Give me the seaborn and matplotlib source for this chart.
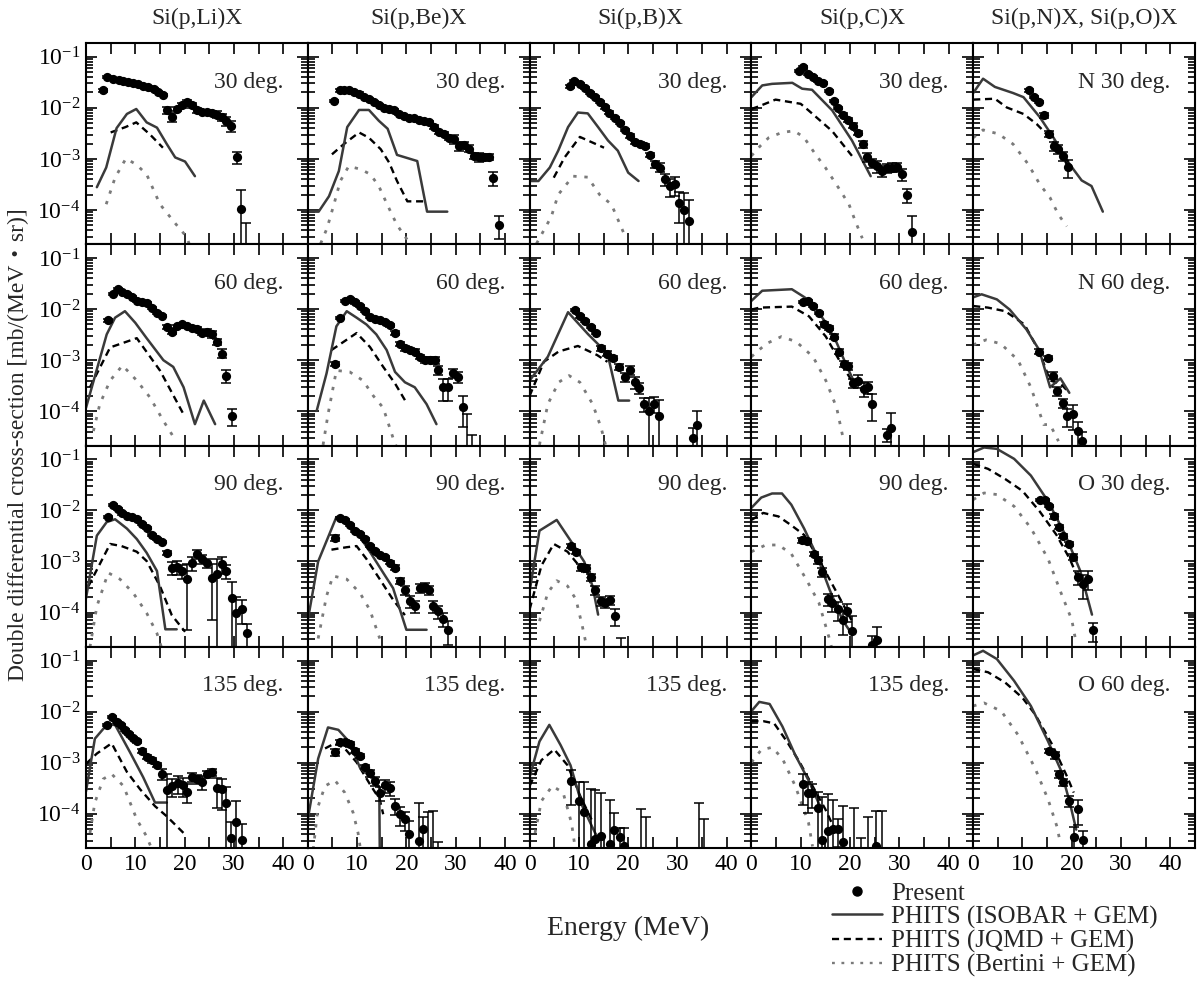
import numpy as np
import pandas as pd
import matplotlib
matplotlib.use("Agg")
import matplotlib.pyplot as plt
from matplotlib.lines import Line2D
from matplotlib.ticker import MultipleLocator, LogLocator, NullFormatter
import seaborn as sns

# ====== DATA (E [MeV], cross-section, relative error) ======
COL_TITLES = ["Si(p,Li)X", "Si(p,Be)X", "Si(p,B)X", "Si(p,C)X", "Si(p,N)X, Si(p,O)X"]
ANGLES = ["30 deg.", "60 deg.", "90 deg.", "135 deg."]
LAST_COL_LABELS = ["N 30 deg.", "N 60 deg.", "O 30 deg.", "O 60 deg."]
LEGEND_LABELS = ["Present", "PHITS (ISOBAR + GEM)", "PHITS (JQMD + GEM)", "PHITS (Bertini + GEM)"]

# ---- 30 deg ----
li30_exp = [(3.5, 0.0219, .05), (4.3, 0.0407, .05), (5.5, 0.0372, .05), (6.6, 0.0355, .05), (7.6, 0.0339, .05),
            (8.6, 0.0324, .05), (9.6, 0.0309, .05), (10.6, 0.0288, .05), (11.6, 0.0263, .05), (12.6, 0.0251, .05),
            (13.7, 0.0229, .05), (14.7, 0.0204, .05), (15.6, 0.0178, .05), (16.4, 0.0091, .15), (17.5, 0.0066, .2),
            (18.4, 0.0095, .1), (19.4, 0.0112, .1), (20.4, 0.0129, .1), (21.5, 0.0112, .1), (22.5, 0.0089, .1),
            (23.5, 0.0083, .1), (24.5, 0.0083, .1), (25.5, 0.0079, .1), (26.5, 0.0074, .15), (27.5, 0.0066, .15),
            (28.5, 0.0056, .2), (29.5, 0.0045, .25), (30.6, 0.00107, .25), (31.4, 1.05e-4, 1.34), (32.5, 1.5e-5, 2.7)]
li30_isobar = [(2.2, 2.8e-4), (4.1, 6.8e-4), (6.2, 4.0e-3), (8.3, 7.6e-3), (10.2, 9.5e-3), (12.3, 5.2e-3),
               (14.4, 4.1e-3), (16.4, 1.95e-3), (18.1, 1.07e-3), (20.1, 8.9e-4), (22.1, 4.6e-4)]
li30_jqmd = [(5.0, 3.3e-3), (8.0, 4.2e-3), (10.2, 5.2e-3), (13.0, 3.0e-3), (15.6, 1.66e-3)]
li30_bertini = [(4.1, 1.3e-4), (5.9, 4.3e-4), (8.1, 1.02e-3), (10.2, 7.8e-4), (12.3, 5.0e-4), (15.0, 1.3e-4),
                (18.1, 5.5e-5), (20.4, 3.0e-5), (21.0, 2.1e-5)]

be30_exp = [(5.3, 0.0138, .05), (6.5, 0.0219, .05), (7.3, 0.0226, .05), (8.3, 0.0219, .05), (9.3, 0.0204, .05),
            (10.4, 0.0191, .05), (11.4, 0.0166, .05), (12.4, 0.0151, .05), (13.4, 0.0129, .05), (14.4, 0.0112, .05),
            (15.4, 0.0100, .05), (16.5, 0.0095, .05), (17.5, 0.0089, .05), (18.5, 0.0076, .05), (19.5, 0.0068, .05),
            (20.5, 0.0063, .05), (21.5, 0.0063, .05), (22.5, 0.0058, .05), (23.6, 0.0055, .05), (24.6, 0.0052, .05),
            (25.6, 0.0042, .08), (26.6, 0.0033, .08), (27.6, 0.0031, .1), (28.6, 0.0026, .1), (29.7, 0.0025, .2),
            (30.7, 0.0018, .2), (31.7, 0.0019, .15), (32.7, 0.0016, .15), (33.7, 0.00115, .15), (34.7, 0.00107, .2),
            (35.7, 0.00107, .15), (36.8, 0.0011, .15), (37.6, 4.3e-4, .3), (38.7, 5.1e-5, .47)]
be30_isobar = [(0, 9.3e-5), (2.2, 9.3e-5), (4.3, 1.86e-4), (6.3, 5.8e-4), (8.0, 4.2e-3), (10.4, 9.1e-3),
               (12.4, 9.1e-3), (14.4, 5.6e-3), (16.2, 3.9e-3), (18.1, 1.2e-3), (22.2, 9.1e-4), (24.2, 9.3e-5),
               (28.3, 9.3e-5)]
be30_jqmd = [(4.9, 1.23e-3), (7.3, 1.95e-3), (10.4, 3.3e-3), (12.4, 2.6e-3), (14.8, 1.55e-3), (16.5, 8.5e-4),
             (18.1, 3.7e-4), (20.2, 1.48e-4), (22.2, 1.48e-4), (24.0, 1.48e-4)]
be30_bertini = [(2.6, 2.2e-5), (3.9, 4.4e-5), (5.3, 1.29e-4), (6.6, 3.7e-4), (8.3, 7.2e-4), (10.7, 6.3e-4),
                (12.7, 5.0e-4), (14.4, 2.95e-4), (16.1, 1.29e-4), (18.1, 5.1e-5), (20.2, 2.6e-5)]

b30_exp = [(8.1, 0.0263, .05), (9.1, 0.0339, .05), (10.2, 0.0295, .05), (11.2, 0.0245, .05), (12.2, 0.0195, .05),
           (13.2, 0.0162, .05), (14.2, 0.0129, .05), (15.2, 0.0102, .05), (16.2, 0.0081, .05), (17.3, 0.0063, .05),
           (18.3, 0.0050, .05), (19.3, 0.0037, .05), (20.3, 0.0028, .08), (21.3, 0.0021, .08), (22.3, 0.00195, .08),
           (23.4, 0.00182, .1), (24.4, 0.0012, .1), (25.4, 7.8e-4, .15), (26.4, 6.8e-4, .2), (27.4, 4.0e-4, .25),
           (28.4, 2.95e-4, .4), (29.4, 3.2e-4, .4), (30.3, 1.38e-4, .6), (31.3, 9.8e-5, 1.2), (32.4, 6.0e-5, 1.6)]
b30_isobar = [(0, 3.7e-4), (1.8, 3.7e-4), (4.1, 6.8e-4), (5.8, 1.45e-3), (7.8, 4.2e-3), (9.8, 8.1e-3),
              (11.8, 7.8e-3), (13.9, 4.2e-3), (15.9, 2.3e-3), (17.9, 1.45e-3), (20.0, 5.4e-4), (22.1, 3.7e-4)]
b30_jqmd = [(4.9, 4.3e-4), (7.1, 1.07e-3), (10.2, 2.7e-3), (15.1, 1.66e-3)]
b30_bertini = [(1.4, 2.2e-5), (4.4, 7.4e-5), (5.8, 2.0e-4), (8.8, 4.6e-4), (11.8, 4.4e-4), (14.2, 2.0e-4),
               (16.6, 1.29e-4), (19.3, 3.2e-5)]

c30_exp = [(9.6, 0.0525, .05), (10.5, 0.0617, .05), (11.5, 0.0468, .05), (12.5, 0.0407, .05), (13.5, 0.0339, .05),
           (14.6, 0.0309, .05), (15.7, 0.0214, .05), (16.7, 0.0138, .05), (17.6, 0.0100, .05), (18.6, 0.0074, .08),
           (19.6, 0.0058, .1), (20.7, 0.0045, .1), (21.7, 0.0032, .1), (22.7, 0.00195, .15), (23.5, 0.0011, .2),
           (24.5, 8.5e-4, .2), (25.5, 7.2e-4, .25), (26.5, 5.8e-4, .25), (27.6, 6.6e-4, .2), (28.6, 6.8e-4, .2),
           (29.6, 6.9e-4, .2), (30.6, 5.0e-4, .25), (31.6, 2.0e-4, .3), (32.6, 3.8e-5, 1.0)]
c30_isobar = [(0, 0.0162), (2.2, 0.0275), (4.2, 0.0295), (8.3, 0.0309), (10.3, 0.0237), (12.3, 0.0226),
              (16.4, 8.9e-3), (20.4, 2.3e-3), (24.2, 4.6e-4)]
c30_jqmd = [(0, 9.5e-3), (1.5, 0.0107), (4.9, 0.0145), (10.0, 0.012), (11.6, 8.9e-3), (16.4, 3.5e-3),
            (20.4, 1.15e-3)]
c30_bertini = [(0, 1.15e-3), (1.8, 1.8e-3), (3.5, 2.6e-3), (6.2, 3.3e-3), (8.6, 3.55e-3), (10.6, 2.7e-3),
               (13.0, 1.23e-3), (15.0, 6.8e-4), (17.7, 2.7e-4), (19.8, 1.29e-4), (21.1, 6.0e-5), (22.5, 2.8e-5)]

n30_exp = [(11.4, 0.0219, .05), (12.3, 0.0162, .05), (13.3, 0.0129, .05), (14.4, 0.0071, .1), (15.4, 0.0031, .15),
           (16.4, 0.00182, .2), (17.3, 0.00155, .2), (18.3, 0.00115, .2), (19.3, 6.9e-4, .38)]
n30_isobar = [(0, 0.0195), (2.0, 0.0372), (4.4, 0.0257), (8.1, 0.0195), (10.2, 0.0162), (13.5, 6.6e-3),
              (16.3, 2.6e-3), (19.6, 7.8e-4), (22.0, 3.8e-4), (24.0, 2.95e-4), (26.3, 9.3e-5)]
n30_jqmd = [(0, 0.0145), (4.4, 0.0151), (6.8, 0.0102), (10.2, 7.6e-3), (12.9, 4.8e-3), (15.6, 2.6e-3),
            (17.6, 1.45e-3), (19.3, 6.8e-4)]
n30_bertini = [(0, 2.6e-3), (2.0, 3.7e-3), (5.1, 3.1e-3), (8.1, 1.95e-3), (11.2, 7.8e-4), (13.5, 3.2e-4),
               (15.6, 1.74e-4), (17.3, 8.1e-5), (19.0, 4.8e-5)]

# ---- 60 deg ----
li60_exp = [(4.5, 6.0e-3, .05), (5.4, 0.0195, .05), (6.4, 0.0251, .05), (7.4, 0.0219, .05), (8.4, 0.0195, .05),
            (9.4, 0.017, .05), (10.4, 0.0145, .05), (11.4, 0.0138, .05), (12.3, 0.0129, .05), (13.3, 0.0107, .05),
            (14.4, 8.5e-3, .05), (15.4, 7.4e-3, .05), (16.4, 4.5e-3, .1), (17.4, 3.6e-3, .1), (18.4, 4.6e-3, .08),
            (19.4, 5.0e-3, .08), (20.4, 4.6e-3, .08), (21.5, 4.3e-3, .08), (22.5, 4.1e-3, .1), (23.5, 3.4e-3, .1),
            (24.5, 3.6e-3, .15), (25.5, 3.2e-3, .15), (26.5, 2.3e-3, .15), (27.6, 1.35e-3, .2), (28.4, 5.0e-4, .3),
            (29.6, 8.1e-5, .35)]
li60_isobar = [(0, 1.17e-4), (4.2, 3.2e-3), (5.9, 6.8e-3), (7.9, 9.1e-3), (10.0, 5.4e-3), (12.3, 2.7e-3),
               (15.7, 1.0e-3), (17.7, 7.4e-4), (19.8, 2.95e-4), (22.1, 5.6e-5), (23.9, 1.62e-4), (26.2, 5.6e-5)]
li60_jqmd = [(0.8, 2.95e-4), (4.9, 1.78e-3), (10.3, 2.7e-3), (15.0, 6.3e-4), (19.8, 8.7e-5)]
li60_bertini = [(1.5, 4.1e-5), (2.8, 1.38e-4), (4.9, 4.0e-4), (7.4, 7.9e-4), (10.3, 4.0e-4), (13.0, 1.86e-4),
                (15.7, 6.5e-5), (17.7, 3.2e-5)]

be60_exp = [(5.5, 8.5e-4, .1), (6.5, 6.8e-3, .05), (7.5, 0.0145, .05), (8.5, 0.0155, .05), (9.5, 0.0135, .05),
            (10.6, 0.0115, .05), (11.6, 9.1e-3, .05), (12.6, 7.1e-3, .05), (13.6, 6.5e-3, .05), (14.6, 6.2e-3, .05),
            (15.6, 5.5e-3, .05), (16.7, 4.8e-3, .05), (17.7, 3.4e-3, .08), (18.7, 2.1e-3, .1), (19.7, 1.7e-3, .1),
            (20.7, 1.58e-3, .1), (21.7, 1.48e-3, .1), (22.8, 1.17e-3, .1), (23.8, 1.02e-3, .12), (24.8, 1.02e-3, .12),
            (25.8, 1.0e-3, .15), (26.5, 6.3e-4, .2), (27.5, 2.95e-4, .45), (28.5, 2.95e-4, .45), (29.4, 5.5e-4, .2),
            (30.5, 4.7e-4, .25), (31.5, 1.23e-4, .6), (32.4, 1.5e-5, 4.8), (33.4, 1.5e-5, 1.3)]
be60_isobar = [(1.8, 1.02e-4), (3.8, 5.5e-4), (5.8, 4.6e-3), (7.9, 9.1e-3), (9.9, 6.8e-3), (11.9, 5.0e-3),
               (13.9, 3.2e-3), (16.0, 1.58e-3), (17.7, 5.9e-4), (19.7, 3.7e-4), (21.7, 2.95e-4), (24.1, 1.38e-4),
               (26.1, 5.6e-5)]
be60_jqmd = [(4.8, 1.58e-3), (9.9, 3.4e-3), (12.6, 1.82e-3), (15.3, 7.4e-4), (17.7, 3.5e-4), (20.0, 1.48e-4)]
be60_bertini = [(3.1, 2.2e-5), (4.1, 8.7e-5), (5.8, 6.3e-4), (8.5, 5.9e-4), (11.2, 4.0e-4), (13.3, 2.0e-4),
                (15.3, 1.17e-4), (17.3, 3.0e-5), (18.0, 2.0e-5)]

b60_exp = [(9.2, 9.5e-3, .05), (10.2, 7.2e-3, .05), (11.3, 5.8e-3, .05), (12.4, 4.5e-3, .05), (13.4, 3.4e-3, .05),
           (14.5, 1.7e-3, .1), (15.8, 1.35e-3, .1), (17.0, 1.12e-3, .1), (18.2, 7.4e-4, .15), (19.3, 4.7e-4, .2),
           (20.3, 6.3e-4, .2), (21.3, 3.7e-4, .25), (22.1, 2.9e-4, .25), (23.2, 1.38e-4, .3), (24.2, 1.02e-4, .8),
           (25.3, 1.41e-4, .35), (26.2, 8.1e-5, 1.1), (33.1, 3.0e-5, .6), (34.0, 5.4e-5, .9)]
b60_isobar = [(0, 4.0e-4), (3.7, 1.17e-3), (7.8, 8.7e-3), (11.9, 3.2e-3), (15.8, 1.35e-3), (18.0, 1.62e-4),
              (20.2, 1.62e-4)]
b60_jqmd = [(0, 2.0e-4), (2.9, 9.3e-4), (5.9, 1.48e-3), (9.8, 1.9e-3), (13.7, 1.26e-3), (15.8, 9.3e-4)]
b60_bertini = [(2.0, 2.2e-5), (3.7, 1.38e-4), (5.9, 3.7e-4), (8.0, 5.0e-4), (10.2, 3.7e-4), (12.8, 1.38e-4),
               (14.5, 4.8e-5), (15.4, 2.2e-5)]

c60_exp = [(10.4, 0.0138, .05), (11.4, 0.0145, .05), (12.5, 0.0115, .05), (13.7, 8.5e-3, .05), (14.7, 5.0e-3, .1),
           (15.7, 4.3e-3, .1), (16.7, 2.9e-3, .1), (17.7, 1.48e-3, .1), (18.8, 8.5e-4, .15), (19.6, 7.6e-4, .15),
           (20.6, 3.5e-4, .2), (21.6, 4.0e-4, .3), (22.8, 2.75e-4, .3), (23.6, 2.95e-4, .25), (24.5, 1.41e-4, .55),
           (27.5, 3.5e-5, .3), (28.4, 4.8e-5, .9)]
c60_isobar = [(0, 0.0145), (2.2, 0.0229), (8.2, 0.0245), (10.8, 0.017), (13.0, 0.0105), (15.1, 5.4e-3),
              (17.3, 2.2e-3), (19.5, 7.1e-4), (21.0, 3.5e-4)]
c60_jqmd = [(0, 9.8e-3), (1.7, 0.0107), (8.2, 0.0112), (11.7, 7.2e-3), (15.1, 2.9e-3), (18.6, 7.4e-4),
            (21.2, 2.95e-4)]
c60_bertini = [(0, 1.17e-3), (3.0, 2.1e-3), (6.1, 2.9e-3), (9.1, 2.3e-3), (12.5, 1.17e-3), (15.1, 4.0e-4),
               (17.3, 1.17e-4), (18.6, 3.0e-5)]

n60_exp = [(13.4, 1.48e-3, .1), (15.1, 1.12e-3, .1), (16.2, 5.0e-4, .15), (17.1, 2.5e-4, .2), (18.2, 1.48e-4, .2),
           (19.1, 8.1e-5, .4), (20.2, 8.7e-5, .5), (21.2, 4.1e-5, .5), (22.1, 2.6e-5, .5)]
n60_isobar = [(0, 0.017), (1.7, 0.0195), (4.8, 0.0155), (7.4, 9.8e-3), (10.8, 4.0e-3), (13.4, 1.58e-3),
              (15.6, 2.95e-4), (17.7, 4.4e-4), (19.5, 2.3e-4)]
n60_jqmd = [(0, 0.0115), (3.0, 0.0107), (6.5, 9.1e-3), (10.4, 5.0e-3), (13.4, 1.48e-3), (15.6, 4.0e-4),
            (17.7, 3.5e-4), (19.5, 2.3e-4)]
n60_bertini = [(0, 2.0e-3), (2.6, 2.5e-3), (5.6, 2.1e-3), (9.1, 1.0e-3), (11.7, 2.95e-4), (14.3, 5.5e-5),
               (15.6, 5.5e-5), (17.3, 2.6e-5)]

# ---- 90 deg ----
li90_exp = [(4.5, 7.4e-3, .05), (5.4, 0.0129, .05), (6.4, 0.0107, .05), (7.4, 8.7e-3, .05), (8.4, 7.8e-3, .05),
            (9.4, 7.4e-3, .05), (10.4, 6.8e-3, .05), (11.4, 5.5e-3, .05), (12.3, 4.6e-3, .05), (13.3, 3.3e-3, .05),
            (14.4, 2.75e-3, .05), (15.4, 2.4e-3, .05), (16.5, 1.48e-3, .1), (17.4, 7.6e-4, .3), (18.4, 7.9e-4, .3),
            (19.4, 6.5e-4, .3), (20.4, 4.6e-4, .9), (21.6, 9.3e-4, .3), (22.5, 1.41e-3, .2), (23.5, 1.12e-3, .2),
            (24.5, 9.5e-4, .2), (25.5, 4.8e-4, .85), (26.5, 5.6e-4, 1.0), (27.6, 8.9e-4, .35), (28.4, 6.5e-4, .3),
            (29.6, 1.9e-4, 1.05), (30.5, 9.8e-5, 1.05), (31.6, 1.17e-4, .5), (32.6, 4.0e-5, .5)]
li90_isobar = [(0, 1.9e-4), (2.2, 3.2e-3), (4.2, 5.9e-3), (5.9, 6.7e-3), (8.3, 4.4e-3), (10.3, 2.75e-3),
               (12.3, 1.48e-3), (14.4, 6.5e-4), (16.1, 4.7e-5), (18.4, 4.7e-5)]
li90_jqmd = [(0.5, 3.3e-4), (4.9, 2.2e-3), (7.2, 2.0e-3), (10.3, 1.55e-3), (12.3, 1.02e-3), (15.0, 3.3e-4),
             (17.4, 8.9e-5), (20.1, 4.2e-5)]
li90_bertini = [(0.8, 2.1e-5), (2.2, 1.32e-4), (4.5, 6.0e-4), (6.9, 4.5e-4), (9.6, 2.4e-4), (12.3, 9.8e-5),
                (14.4, 3.9e-5), (15.4, 1.95e-5)]

be90_exp = [(5.5, 2.9e-3, .15), (6.5, 7.1e-3, .05), (7.5, 6.5e-3, .05), (8.5, 5.1e-3, .05), (9.5, 3.9e-3, .05),
            (10.6, 3.5e-3, .05), (11.6, 2.75e-3, .05), (12.6, 2.0e-3, .05), (13.6, 1.62e-3, .05), (14.6, 1.35e-3, .05),
            (15.6, 1.2e-3, .05), (16.7, 9.5e-4, .08), (17.7, 7.6e-4, .1), (18.7, 4.2e-4, .15), (19.7, 2.8e-4, .2),
            (20.7, 1.66e-4, .25), (21.7, 1.32e-4, .25), (22.8, 3.0e-4, .2), (23.8, 3.2e-4, .2), (24.6, 2.75e-4, .2),
            (25.5, 1.32e-4, .25), (26.5, 1.05e-4, .3), (27.5, 7.4e-5, .3), (28.5, 4.6e-5, .5)]
be90_isobar = [(0, 7.1e-5), (2.1, 1.0e-3), (5.8, 7.4e-3), (9.9, 3.8e-3), (12.6, 1.55e-3), (15.3, 6.0e-4),
               (17.3, 3.0e-4), (20.0, 4.6e-5), (24.1, 4.6e-5)]
be90_jqmd = [(4.8, 1.7e-3), (7.9, 1.9e-3), (9.9, 2.0e-3), (11.9, 1.12e-3), (14.6, 4.5e-4), (17.3, 1.78e-4),
             (19.7, 8.9e-5)]
be90_bertini = [(2.1, 3.1e-5), (3.8, 2.1e-4), (5.1, 5.2e-4), (7.9, 4.5e-4), (10.6, 2.4e-4), (12.6, 1.12e-4),
                (14.6, 3.1e-5)]

b90_exp = [(8.3, 2.0e-3, .1), (9.4, 1.55e-3, .1), (10.4, 7.8e-4, .15), (11.5, 7.4e-4, .15), (12.4, 4.9e-4, .15),
           (13.3, 2.75e-4, .2), (14.4, 1.7e-4, .2), (15.3, 1.51e-4, .2), (16.3, 1.78e-4, .2), (17.4, 8.5e-5, .35),
           (18.5, 1.5e-5, 1.1)]
b90_isobar = [(0, 2.6e-4), (2.0, 4.0e-3), (5.5, 6.5e-3), (8.5, 2.4e-3), (11.1, 9.8e-4), (12.8, 3.2e-4),
              (13.9, 9.1e-5)]
b90_jqmd = [(0, 1.15e-4), (2.4, 8.3e-4), (4.9, 2.2e-3), (7.7, 1.55e-3), (11.1, 6.2e-4), (14.2, 1.95e-4)]
b90_bertini = [(2.0, 6.8e-5), (3.7, 2.45e-4), (5.5, 4.2e-4), (7.7, 3.3e-4), (9.4, 1.82e-4), (10.7, 5.4e-5),
               (11.6, 2.1e-5)]

c90_exp = [(10.2, 2.6e-3, .1), (11.3, 2.5e-3, .1), (12.6, 1.41e-3, .1), (13.6, 1.05e-3, .15), (14.4, 6.2e-4, .2),
           (15.5, 1.82e-4, .25), (16.3, 1.55e-4, .35), (17.5, 1.15e-4, .4), (18.5, 7.2e-5, .5), (19.4, 1.07e-4, .4),
           (20.4, 4.3e-5, 1.0), (24.4, 2.3e-5, .5), (25.5, 2.9e-5, .8)]
c90_isobar = [(0, 0.0112), (2.0, 0.0178), (4.2, 0.0214), (6.2, 0.0214), (8.1, 0.0129), (10.7, 4.4e-3),
              (13.3, 1.29e-3), (15.9, 2.75e-4), (18.5, 7.1e-5), (20.3, 3.9e-5)]
c90_jqmd = [(0, 6.5e-3), (2.4, 8.9e-3), (5.5, 7.6e-3), (8.1, 5.1e-3), (10.7, 3.3e-3), (13.3, 1.29e-3),
            (15.9, 4.4e-4), (18.5, 1.51e-4), (20.3, 7.1e-5)]
c90_bertini = [(0, 1.55e-3), (2.9, 2.1e-3), (5.5, 2.1e-3), (8.1, 1.41e-3), (11.1, 4.5e-4), (13.7, 1.55e-4),
               (15.9, 2.9e-5), (16.3, 2.0e-5)]

o30_exp = [(13.5, 0.0162, .05), (14.5, 0.0162, .05), (15.4, 0.012, .05), (16.3, 7.6e-3, .1), (17.4, 4.8e-3, .1),
           (18.3, 3.2e-3, .1), (19.4, 2.2e-3, .1), (20.3, 1.23e-3, .15), (21.3, 4.9e-4, .3), (22.2, 3.6e-4, .5),
           (23.2, 4.6e-4, .4), (24.3, 4.5e-5, .4)]
o30_isobar = [(0, 0.138), (2.2, 0.17), (4.8, 0.16), (8.3, 0.102), (11.7, 0.048), (15.2, 0.015), (18.7, 3.3e-3),
              (21.7, 6.6e-4), (24.1, 9.1e-5)]
o30_jqmd = [(0, 0.081), (3.0, 0.065), (6.5, 0.041), (10.0, 0.024), (13.5, 9.5e-3), (16.9, 3.3e-3),
            (19.6, 1.12e-3), (21.3, 4.6e-4)]
o30_bertini = [(0, 0.0162), (2.2, 0.0219), (4.8, 0.0204), (8.3, 0.012), (11.7, 4.5e-3), (15.2, 1.12e-3),
               (17.8, 2.45e-4), (20.0, 7.2e-5), (20.9, 2.5e-5)]

# ---- 135 deg ----
li135_exp = [(4.3, 5.4e-3, .05), (5.3, 7.8e-3, .05), (6.2, 6.2e-3, .05), (7.0, 5.4e-3, .05), (7.9, 4.4e-3, .05),
             (8.8, 3.6e-3, .05), (9.6, 3.0e-3, .05), (10.4, 2.6e-3, .05), (11.4, 1.7e-3, .08), (12.3, 1.29e-3, .08),
             (13.3, 1.12e-3, .1), (14.4, 9.1e-4, .1), (15.4, 6.0e-4, .25), (16.5, 2.95e-4, 1.05), (17.5, 3.5e-4, .4),
             (18.6, 4.0e-4, .4), (19.6, 3.6e-4, .4), (20.4, 2.7e-4, .4), (21.6, 5.2e-4, .2), (22.6, 4.8e-4, .2),
             (23.5, 4.2e-4, .3), (24.5, 6.0e-4, .15), (25.5, 6.5e-4, .15), (26.5, 3.2e-4, .6), (27.6, 3.0e-4, .6),
             (28.4, 1.66e-4, 1.05), (29.4, 3.3e-5, 1.1), (30.5, 6.8e-5, 1.6), (31.6, 3.1e-5, 1.0)]
li135_isobar = [(0, 2.75e-4), (1.8, 2.95e-3), (4.2, 5.5e-3), (5.9, 5.5e-3), (8.9, 1.62e-3), (11.6, 5.2e-4),
                (14.0, 1.66e-4), (16.4, 1.66e-4)]
li135_jqmd = [(0, 9.5e-4), (2.2, 1.51e-3), (5.2, 2.4e-3), (8.3, 6.6e-4), (11.0, 3.0e-4), (14.0, 1.41e-4),
              (16.4, 8.9e-5), (19.8, 4.2e-5)]
li135_bertini = [(0.8, 4.2e-5), (1.8, 1.66e-4), (3.5, 4.8e-4), (5.2, 6.0e-4), (7.6, 3.5e-4), (10.3, 7.8e-5),
                 (12.3, 3.6e-5), (13.3, 2.1e-5)]

be135_exp = [(5.5, 1.62e-3, .15), (6.5, 2.5e-3, .1), (7.5, 2.5e-3, .1), (8.5, 2.3e-3, .1), (9.5, 1.7e-3, .1),
             (10.6, 1.35e-3, .1), (11.6, 8.3e-4, .1), (12.6, 6.3e-4, .15), (13.6, 4.4e-4, .2), (14.6, 2.6e-4, .3),
             (15.6, 3.6e-4, .3), (16.7, 3.2e-4, .3), (17.7, 1.45e-4, .35), (18.7, 9.8e-5, .4), (19.7, 7.8e-5, .4),
             (20.6, 4.1e-5, .8), (22.6, 3.0e-5, 4.5), (23.4, 5.0e-5, .75), (24.4, 1.5e-5, 6.3), (25.5, 1.5e-5, 6.6),
             (26.5, 1.5e-5, .9)]
be135_isobar = [(0, 7.8e-5), (2.1, 1.2e-3), (4.1, 4.9e-3), (6.2, 4.4e-3), (8.5, 2.5e-3), (10.6, 7.9e-4),
                (13.3, 4.7e-4), (14.5, 3.2e-4), (14.6, 2.0e-5)]
be135_jqmd = [(3.5, 1.9e-3), (5.5, 2.4e-3), (7.5, 1.9e-3), (9.9, 1.02e-3), (12.6, 3.8e-4), (14.6, 1.9e-4),
              (15.3, 9.8e-5)]
be135_bertini = [(1.1, 2.0e-5), (2.1, 1.41e-4), (3.5, 3.5e-4), (5.5, 4.5e-4), (7.5, 2.6e-4), (9.2, 1.05e-4),
                 (10.2, 4.2e-5), (10.6, 2.3e-5)]

b135_exp = [(8.3, 4.3e-4, .65), (10.1, 1.78e-4, 1.35), (11.1, 1.1e-4, 2.8), (12.4, 2.6e-5, 10.5), (13.3, 3.2e-5, 8),
            (14.4, 3.7e-5, 6), (16.3, 2.6e-5, 6.3), (17.2, 4.8e-5, 1.2), (18.3, 3.5e-5, .5), (19.1, 2.3e-5, 1.3),
            (22.6, 1.5e-5, 7.2), (23.7, 1.5e-5, 4.9), (34.4, 1.5e-5, 10), (35.3, 1.5e-5, 4.2)]
b135_isobar = [(0, 5.2e-4), (2.0, 2.6e-3), (4.0, 5.5e-3), (6.3, 2.2e-3), (8.3, 8.9e-4), (10.7, 1.41e-4),
               (13.3, 4.2e-5), (14.2, 3.1e-5)]
b135_jqmd = [(0, 3.5e-4), (2.4, 1.12e-3), (5.0, 1.82e-3), (7.7, 8.9e-4), (10.3, 2.2e-4), (12.9, 6.6e-5)]
b135_bertini = [(1.1, 4.2e-5), (2.4, 1.78e-4), (4.6, 3.5e-4), (6.8, 2.6e-4), (8.5, 6.6e-5), (9.2, 2.3e-5)]

c135_exp = [(10.4, 3.8e-4, .6), (11.4, 2.6e-4, .6), (12.3, 2.6e-4, .5), (13.5, 1.32e-4, 1.0), (14.4, 3.1e-5, 5.8),
            (15.5, 4.6e-5, 4.2), (16.6, 5.0e-5, 2.8), (17.5, 5.0e-5, .55), (18.5, 2.8e-5, 4), (20.8, 1.5e-5, 7.8),
            (22.2, 1.5e-5, 1.2), (23.7, 1.5e-5, 4.9), (25.3, 2.3e-5, 3.9), (26.4, 1.5e-5, 6.5)]
c135_isobar = [(0, 0.0102), (1.6, 0.0155), (3.7, 0.0141), (6.3, 5.1e-3), (8.9, 1.41e-3), (11.6, 4.5e-4),
               (14.2, 1.23e-4)]
c135_jqmd = [(0, 6.5e-3), (2.4, 6.5e-3), (4.6, 5.9e-3), (7.2, 2.6e-3), (9.8, 1.02e-3), (12.4, 3.5e-4),
             (15.0, 1.23e-4), (16.8, 5.2e-5)]
c135_bertini = [(0, 1.02e-3), (2.0, 1.78e-3), (4.2, 2.0e-3), (6.3, 1.2e-3), (8.9, 3.5e-4), (11.6, 6.6e-5),
                (12.4, 2.3e-5)]

o60_exp = [(15.4, 1.7e-3, .1), (16.5, 1.41e-3, .15), (17.4, 6.0e-4, .15), (18.3, 4.2e-4, .15), (19.4, 1.78e-4, .25),
           (20.4, 3.5e-5, .6), (21.3, 1.23e-4, .5), (22.2, 3.1e-5, .5)]
o60_isobar = [(0, 0.126), (2.0, 0.155), (4.8, 0.107), (8.3, 0.040), (11.7, 0.0129), (15.2, 2.6e-3),
              (17.8, 7.1e-4), (19.6, 1.66e-4), (20.9, 4.9e-5)]
o60_jqmd = [(0, 0.068), (3.0, 0.059), (6.5, 0.037), (10.0, 0.0186), (12.6, 8.7e-3), (16.1, 2.2e-3),
            (19.1, 5.2e-4), (20.4, 2.6e-4)]
o60_bertini = [(0, 0.0129), (2.2, 0.0148), (5.7, 0.0102), (9.1, 3.5e-3), (12.6, 7.6e-4), (15.2, 1.9e-4),
               (17.0, 5.6e-5), (17.7, 2.6e-5)]

PANELS = [
    [(li30_exp, li30_isobar, li30_jqmd, li30_bertini), (be30_exp, be30_isobar, be30_jqmd, be30_bertini),
     (b30_exp, b30_isobar, b30_jqmd, b30_bertini), (c30_exp, c30_isobar, c30_jqmd, c30_bertini),
     (n30_exp, n30_isobar, n30_jqmd, n30_bertini)],
    [(li60_exp, li60_isobar, li60_jqmd, li60_bertini), (be60_exp, be60_isobar, be60_jqmd, be60_bertini),
     (b60_exp, b60_isobar, b60_jqmd, b60_bertini), (c60_exp, c60_isobar, c60_jqmd, c60_bertini),
     (n60_exp, n60_isobar, n60_jqmd, n60_bertini)],
    [(li90_exp, li90_isobar, li90_jqmd, li90_bertini), (be90_exp, be90_isobar, be90_jqmd, be90_bertini),
     (b90_exp, b90_isobar, b90_jqmd, b90_bertini), (c90_exp, c90_isobar, c90_jqmd, c90_bertini),
     (o30_exp, o30_isobar, o30_jqmd, o30_bertini)],
    [(li135_exp, li135_isobar, li135_jqmd, li135_bertini), (be135_exp, be135_isobar, be135_jqmd, be135_bertini),
     (b135_exp, b135_isobar, b135_jqmd, b135_bertini), (c135_exp, c135_isobar, c135_jqmd, c135_bertini),
     (o60_exp, o60_isobar, o60_jqmd, o60_bertini)],
]

# ====== STYLE ======
ISO_COLOR = "#3a3a3a"
JQMD_COLOR = "black"
BERT_COLOR = "#7a7a7a"
JQMD_LS = (0, (3, 2))
BERT_LS = (0, (1.2, 2.8))

sns.set_theme(style="ticks")
plt.rcParams["font.family"] = ["Liberation Serif", "Noto Sans CJK JP"]
plt.rcParams["mathtext.fontset"] = "custom"
plt.rcParams["mathtext.rm"] = "Liberation Serif"
plt.rcParams["mathtext.it"] = "Liberation Serif:italic"
plt.rcParams["mathtext.bf"] = "Liberation Serif:bold"


def draw_model(ax, pts, color, ls, lw):
    df = pd.DataFrame(pts, columns=["E", "y"])
    sns.lineplot(data=df, x="E", y="y", ax=ax, color=color, linestyle=ls, linewidth=lw,
                 estimator=None, sort=False, errorbar=None, legend=False, zorder=2)


def draw_exp(ax, pts):
    df = pd.DataFrame(pts, columns=["E", "y", "rel"])
    lo = np.where(df["rel"] >= 1, df["y"] * 0.999999, df["y"] * df["rel"])
    hi = df["y"] * df["rel"]
    ax.errorbar(df["E"], df["y"], yerr=[lo, hi], fmt="none", ecolor="black",
                elinewidth=1.1, capsize=3.5, capthick=1.1, zorder=3)
    sns.scatterplot(data=df, x="E", y="y", ax=ax, color="black", s=44, linewidth=0,
                    legend=False, zorder=4)


fig, axes = plt.subplots(4, 5, figsize=(11.98, 9.89), dpi=100, sharex=True, sharey=True)
fig.subplots_adjust(left=86 / 1198, right=1195 / 1198, top=1 - 43 / 989, bottom=1 - 848 / 989,
                    wspace=0, hspace=0)

for r, row in enumerate(PANELS):
    for c, (exp, iso, jq, bert) in enumerate(row):
        ax = axes[r, c]
        ax.set_yscale("log")
        draw_model(ax, bert, BERT_COLOR, BERT_LS, 2.0)
        draw_model(ax, jq, JQMD_COLOR, JQMD_LS, 1.7)
        draw_model(ax, iso, ISO_COLOR, "-", 1.8)
        draw_exp(ax, exp)

        label = LAST_COL_LABELS[r] if c == 4 else ANGLES[r]
        ax.text(0.89, 0.806, label, transform=ax.transAxes, ha="right", va="center", fontsize=17)

        ax.set_xlim(0, 45)
        ax.set_ylim(2.14e-5, 0.186)
        ax.set_xlabel("")
        ax.set_ylabel("")
        ax.xaxis.set_major_locator(MultipleLocator(10))
        ax.xaxis.set_minor_locator(MultipleLocator(5))
        ax.yaxis.set_major_locator(LogLocator(base=10, numticks=12))
        ax.yaxis.set_minor_locator(LogLocator(base=10, subs=np.arange(2, 10), numticks=12))
        ax.yaxis.set_minor_formatter(NullFormatter())
        ax.tick_params(which="both", direction="in", top=True, right=True, width=1.2, colors="black")
        ax.tick_params(which="major", length=8, labelsize=17, pad=4)
        ax.tick_params(axis="x", which="minor", length=8)
        ax.tick_params(axis="y", which="minor", length=5)
        for sp in ax.spines.values():
            sp.set_linewidth(1.5)
            sp.set_color("black")

# ====== TEXT ======
col_w = (1195 - 86) / 5
for c, title in enumerate(COL_TITLES):
    fig.text((86 + col_w * (c + 0.5)) / 1198, 1 - 18 / 989, title, ha="center", va="center", fontsize=17)

fig.text(18 / 1198, 1 - 445 / 989, "Double differential cross-section [mb/(MeV・sr)]",
         rotation=90, ha="center", va="center", fontsize=17)
fig.text(628 / 1198, 1 - 928 / 989, "Energy (MeV)", ha="center", va="center", fontsize=20)

handles = [
    Line2D([], [], marker="o", linestyle="none", color="black", markersize=6.5),
    Line2D([], [], color=ISO_COLOR, linewidth=1.8),
    Line2D([], [], color=JQMD_COLOR, linewidth=1.7, linestyle=JQMD_LS),
    Line2D([], [], color=BERT_COLOR, linewidth=1.7, linestyle=BERT_LS),
]
fig.legend(handles, LEGEND_LABELS, loc="upper left", bbox_to_anchor=(832 / 1198, 1 - 882 / 989),
           frameon=False, fontsize=18, handlelength=2.0, handletextpad=0.35, labelspacing=0.04,
           borderpad=0, borderaxespad=0)

fig.savefig("out.png", dpi=100)
plt.close(fig)
